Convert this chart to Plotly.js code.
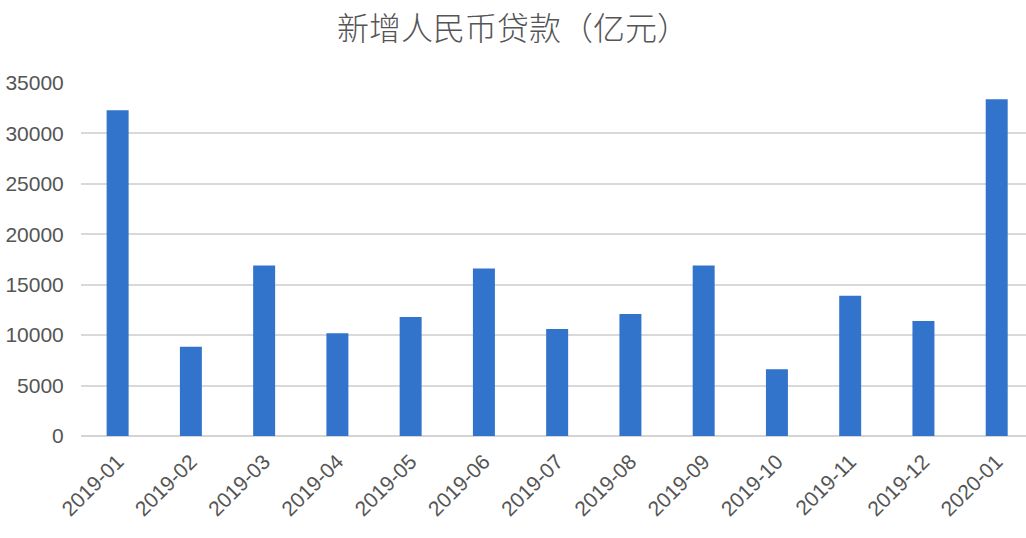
<!DOCTYPE html>
<html>
<head>
<meta charset="utf-8">
<script src="https://cdn.plot.ly/plotly-3.0.1.min.js"></script>
<style>
  html, body { margin: 0; padding: 0; background: #fff; overflow: hidden; }
  #chart { width: 1026px; height: 538px; }
</style>
</head>
<body>
<div id="chart"></div>
<script>
// months and new RMB loans (100 million yuan)
var months = ["2019-01", "2019-02", "2019-03", "2019-04", "2019-05", "2019-06", "2019-07",
  "2019-08", "2019-09", "2019-10", "2019-11", "2019-12", "2020-01"];
var loans = [32300, 8858, 16900, 10200, 11800, 16600, 10600, 12100, 16900, 6613, 13900, 11400, 33400];
var yTicks = [0, 5000, 10000, 15000, 20000, 25000, 30000, 35000];

var textColor = '#555555';
var fontFamily = '"Liberation Sans", Arial, "Noto Sans CJK SC", sans-serif';

var data = [{
  x: months,
  y: loans,
  type: 'bar',
  marker: { color: '#3273cc' },
  hoverinfo: 'x+y'
}];

var layout = {
  width: 1026,
  height: 538,
  margin: { l: 81, r: 0, t: 83, b: 102, pad: 0 },
  paper_bgcolor: '#ffffff',
  plot_bgcolor: '#ffffff',
  bargap: 0.7,
  showlegend: false,
  font: { family: fontFamily, color: textColor, size: 21 },
  title: {
    text: '新增人民币贷款（亿元）',
    font: { family: '"Noto Sans CJK SC", sans-serif', size: 32, color: textColor, weight: 300 },
    x: 0.5,
    xanchor: 'center',
    y: 0.946,
    yanchor: 'middle'
  },
  xaxis: {
    type: 'category',
    range: [-0.5, 12.4],
    tickangle: -45,
    tickfont: { size: 21, color: textColor },
    showgrid: false,
    showline: false,
    zeroline: false,
    ticks: 'outside',
    ticklen: 4,
    tickcolor: 'rgba(0,0,0,0)'
  },
  yaxis: {
    range: [0, 35000],
    tickvals: yTicks,
    ticktext: yTicks.map(String),
    tickfont: { size: 21, color: textColor },
    showgrid: true,
    gridcolor: '#d9d9d9',
    gridwidth: 2,
    zeroline: true,
    zerolinecolor: '#d4d4d4',
    zerolinewidth: 2.5,
    showline: false,
    ticks: 'outside',
    ticklen: 12,
    tickcolor: 'rgba(0,0,0,0)'
  }
};

Plotly.newPlot('chart', data, layout, { displayModeBar: false, staticPlot: true });
</script>
</body>
</html>
